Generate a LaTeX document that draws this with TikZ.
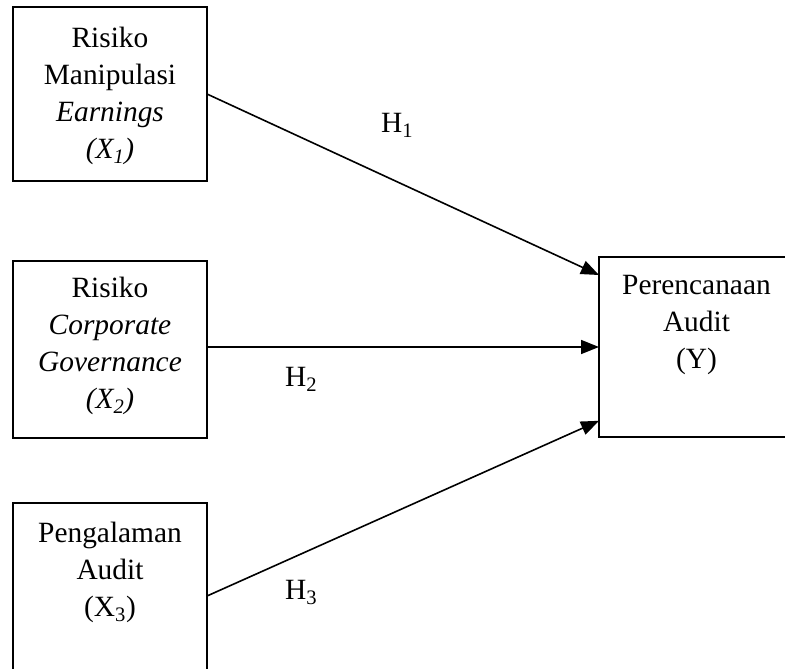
\documentclass[tikz,border=0pt]{standalone}
\usepackage{fontspec}
\setmainfont{Liberation Serif}
\usetikzlibrary{arrows.meta,calc}
\begin{document}
\begin{tikzpicture}[x=1pt,y=-1pt,
  box/.style={draw,line width=1.5pt,minimum width=194pt,inner sep=0pt,outer sep=0pt},
  txt/.style={align=center,inner sep=0pt,anchor=north,font=\fontsize{29.4}{37}\selectfont},
  hyp/.style={anchor=base west,inner sep=0pt,font=\fontsize{29.4}{37}\selectfont},
  conn/.style={line width=1.6pt,-{Triangle[length=18pt,width=14pt]}}]
\useasboundingbox (0,0) rectangle (785,669);
\node[box,minimum height=174pt] (b1) at (110,94) {};
\node[box,minimum height=177pt] (b2) at (110,349.5) {};
\node[box,minimum height=186pt] (b3) at (110,596) {};
\node[box,minimum height=180pt,minimum width=195pt] (y) at (696.5,347) {};
\node[txt] (t1) at ([yshift=-20pt]b1.north) {Risiko\\Manipulasi\\\textit{Earnings}\\\textit{(X\textsubscript{1})}};
\node[txt] (t2) at ([yshift=-16pt]b2.north) {Risiko\\\textit{Corporate}\\\textit{Governance}\\\textit{(X\textsubscript{2})}};
\node[txt] (t3) at ([yshift=-19pt]b3.north) {Pengalaman\\Audit\\(X\textsubscript{3})};
\node[txt] (ty) at ([yshift=-18pt]y.north) {Perencanaan\\Audit\\(Y)};
\draw[conn] (b1.east) -- ($(y.north west)!0.1!(y.south west)$);
\draw[conn] (b2.east |- y.west) -- (y.west);
\draw[conn] (b3.east) -- ($(y.north west)!0.91!(y.south west)$);
\node[hyp] (h1) at (381,132) {H\textsubscript{1}};
\node[hyp] (h2) at (285,386) {H\textsubscript{2}};
\node[hyp] (h3) at (285,599) {H\textsubscript{3}};
\end{tikzpicture}
\end{document}
